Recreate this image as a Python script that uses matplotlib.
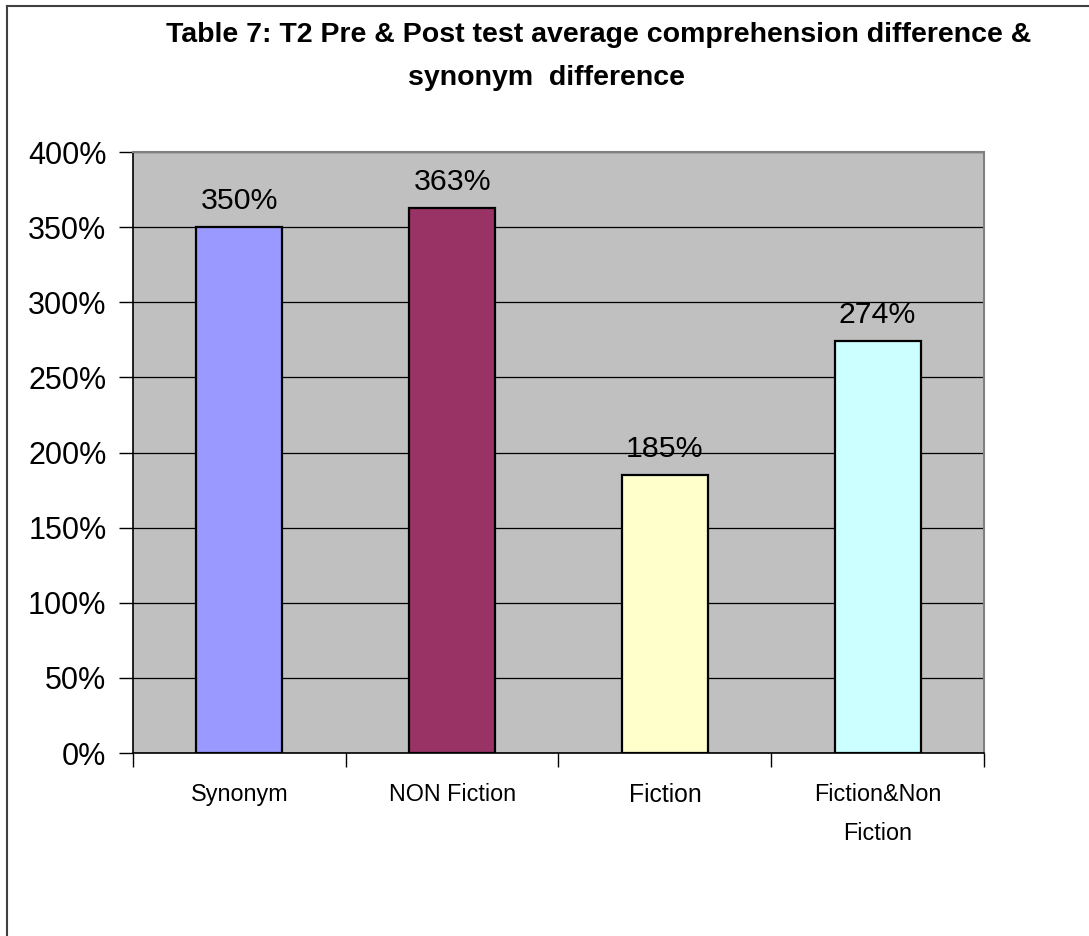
import matplotlib.pyplot as plt
import numpy as np
from matplotlib.ticker import FuncFormatter, FixedLocator
from matplotlib.lines import Line2D

# data
categories = ['Synonym', 'NON Fiction', 'Fiction', 'Fiction&Non\nFiction']
values = [350, 363, 185, 274]
bar_colors = ['#9999FF', '#993366', '#FFFFCC', '#CCFFFF']

plt.rcParams['font.family'] = ['Liberation Sans', 'DejaVu Sans']

fig = plt.figure(figsize=(10.89, 9.36), dpi=100, facecolor='white')
ax = fig.add_axes([0.1221, 0.1955, 0.7815, 0.6421])
ax.set_facecolor('#C0C0C0')

x = np.arange(len(categories))
ax.bar(x, values, width=0.404, color=bar_colors, edgecolor='black',
       linewidth=1.6, zorder=3)

for xi, v in zip(x, values):
    ax.text(xi, v + 8, f'{v}%', ha='center', va='bottom', fontsize=21.8,
            color='black', zorder=4)

ax.set_xlim(-0.5, len(categories) - 0.5)
ax.set_ylim(0, 400)

# y axis
ax.yaxis.set_major_locator(FixedLocator(np.arange(0, 401, 50)))
ax.yaxis.set_major_formatter(FuncFormatter(lambda v, p: f'{int(v)}%'))
ax.grid(axis='y', color='black', linewidth=0.9, zorder=1)
ax.tick_params(axis='y', direction='out', length=10, width=1, labelsize=22,
               pad=9)

# x axis: ticks at category boundaries, labels under bars
ax.set_xticks(np.arange(-0.5, len(categories), 1.0))
ax.set_xticklabels([])
ax.tick_params(axis='x', direction='out', length=10, width=1)
for xi, lab in zip(x, categories):
    fs = 17.8 if lab == 'Fiction' else 16.8
    ax.text(xi, -0.05, lab, transform=ax.get_xaxis_transform(), ha='center',
            va='top', fontsize=fs, linespacing=1.9, color='black')

for side in ['top', 'right']:
    ax.spines[side].set_color('#808080')
    ax.spines[side].set_linewidth(1.5)
for side in ['left', 'bottom']:
    ax.spines[side].set_color('black')
    ax.spines[side].set_linewidth(1.2)

# title
fig.text(0.550, 0.977, 'Table 7: T2 Pre & Post test average comprehension difference &',
         ha='center', va='top', fontsize=20.5, fontweight='bold')
fig.text(0.5015, 0.931, 'synonym  difference',
         ha='center', va='top', fontsize=20.5, fontweight='bold')

# chart area frame (top and left edges)
fig.add_artist(Line2D([0.0065, 0.0065], [0.0, 0.9935], transform=fig.transFigure,
                      color='#404040', linewidth=1.5))
fig.add_artist(Line2D([0.0065, 1.0], [0.9935, 0.9935], transform=fig.transFigure,
                      color='#404040', linewidth=1.5))

fig.savefig('out.png', dpi=100, facecolor='white')
